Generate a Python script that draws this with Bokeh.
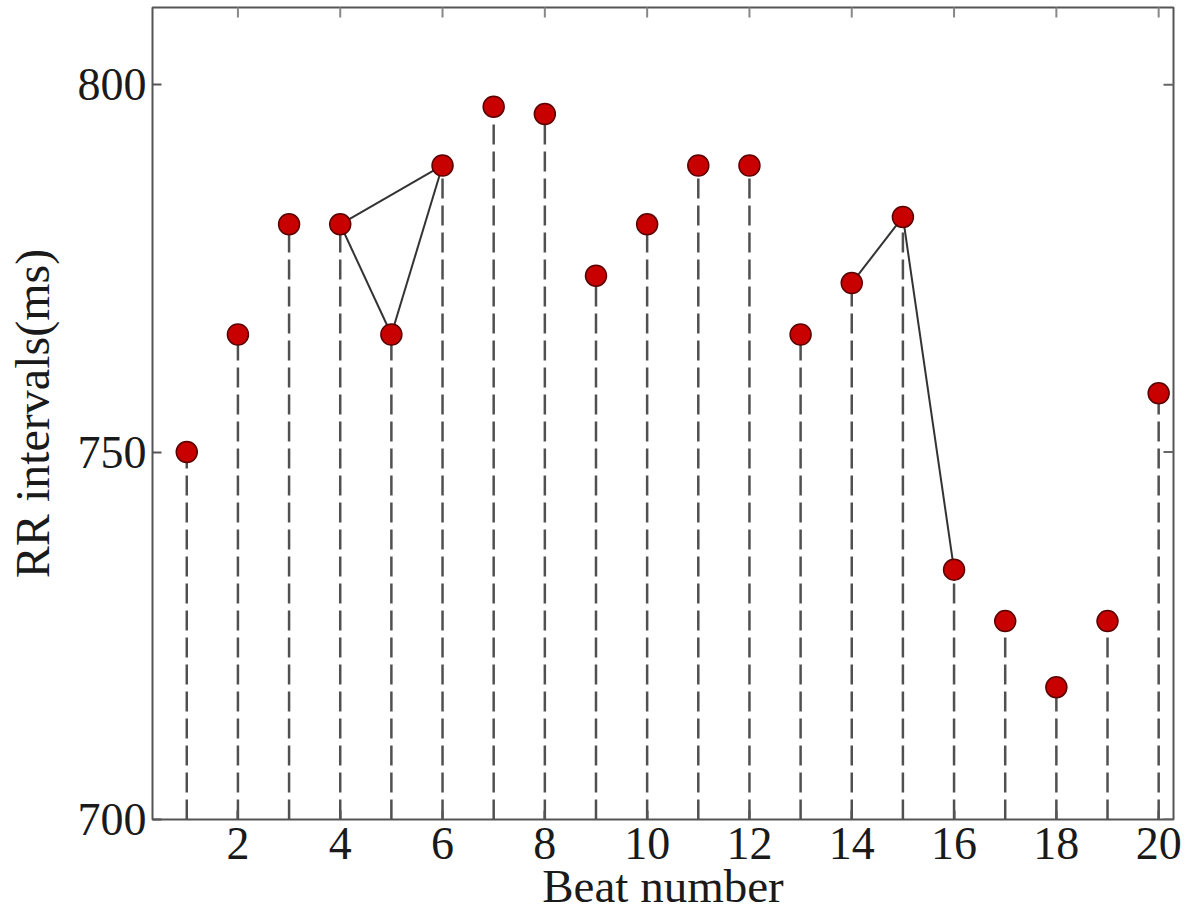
import math
from bokeh.plotting import figure
from bokeh.models import FixedTicker, Range1d, Title
from bokeh.embed import file_html
from bokeh.resources import INLINE

# ---- data ----
beats = list(range(1, 21))
rr_ms = [750, 766, 781, 781, 766, 789, 797, 796, 774, 781,
         789, 789, 766, 773, 782, 734, 727, 718, 727, 758]
baseline_ms = 700
# pairs of beat numbers joined by a solid line
links = [(4, 5), (5, 6), (4, 6), (14, 15), (15, 16)]
x_ticks = [2, 4, 6, 8, 10, 12, 14, 16, 18, 20]
y_ticks = [700, 750, 800]
x_label = "Beat number"
y_label = "RR intervals(ms)"

FONT = "Liberation Serif"
X0, X1 = 0.33, 20.29
Y0, Y1 = 700, 810.5

p = figure(width=1190, height=910, output_backend="svg", toolbar_location=None,
           x_range=Range1d(X0, X1), y_range=Range1d(Y0, Y1),
           min_border_left=152, min_border_right=17, min_border_top=7,
           min_border_bottom=91)
p.grid.visible = False
p.outline_line_color = "#555555"
p.outline_line_width = 2
p.background_fill_color = "white"
p.border_fill_color = "white"

# dashed stems
p.segment(x0=beats, y0=[baseline_ms] * len(beats), x1=beats, y1=rr_ms,
          line_color="#505050", line_width=2.5, line_dash="20 7")

# connecting lines
for a, b in links:
    p.line(x=[a, b], y=[rr_ms[a - 1], rr_ms[b - 1]], line_color="#333333", line_width=2)

# markers
p.scatter(x=beats, y=rr_ms, size=21, marker="circle",
          fill_color="#c80000", line_color="#5a0000", line_width=1.5)

# mirrored ticks on top and right edges (half of each dash is clipped by the frame)
p.scatter(x=x_ticks, y=[Y1] * len(x_ticks), marker="dash", angle=math.pi / 2, size=20,
          line_color="#888888", line_width=2)
p.scatter(x=[X1] * len(y_ticks), y=y_ticks, marker="dash", size=20,
          line_color="#666666", line_width=2)

# axes styling
for ax in [p.xaxis[0], p.yaxis[0]]:
    ax.axis_line_color = None
    ax.major_tick_out = 0
    ax.major_tick_in = 9
    ax.major_tick_line_color = "#555555"
    ax.major_tick_line_width = 2
    ax.minor_tick_line_color = None
    ax.major_label_text_font = FONT
    ax.major_label_text_font_size = "46px"
    ax.major_label_text_color = "#1a1a1a"

p.xaxis[0].ticker = FixedTicker(ticks=x_ticks)
p.yaxis[0].ticker = FixedTicker(ticks=y_ticks)
p.xaxis[0].major_label_standoff = 8
p.yaxis[0].major_label_standoff = 6

p.yaxis[0].axis_label = y_label
p.yaxis[0].axis_label_text_font = FONT
p.yaxis[0].axis_label_text_font_size = "48px"
p.yaxis[0].axis_label_text_font_style = "normal"
p.yaxis[0].axis_label_text_color = "#1a1a1a"
p.yaxis[0].axis_label_standoff = 16

p.add_layout(Title(text=x_label, align="center", offset=49, standoff=-8,
                   text_font=FONT, text_font_size="47px", text_font_style="normal",
                   text_color="#1a1a1a"), "below")

open("out.html", "w").write(file_html(p, INLINE))
